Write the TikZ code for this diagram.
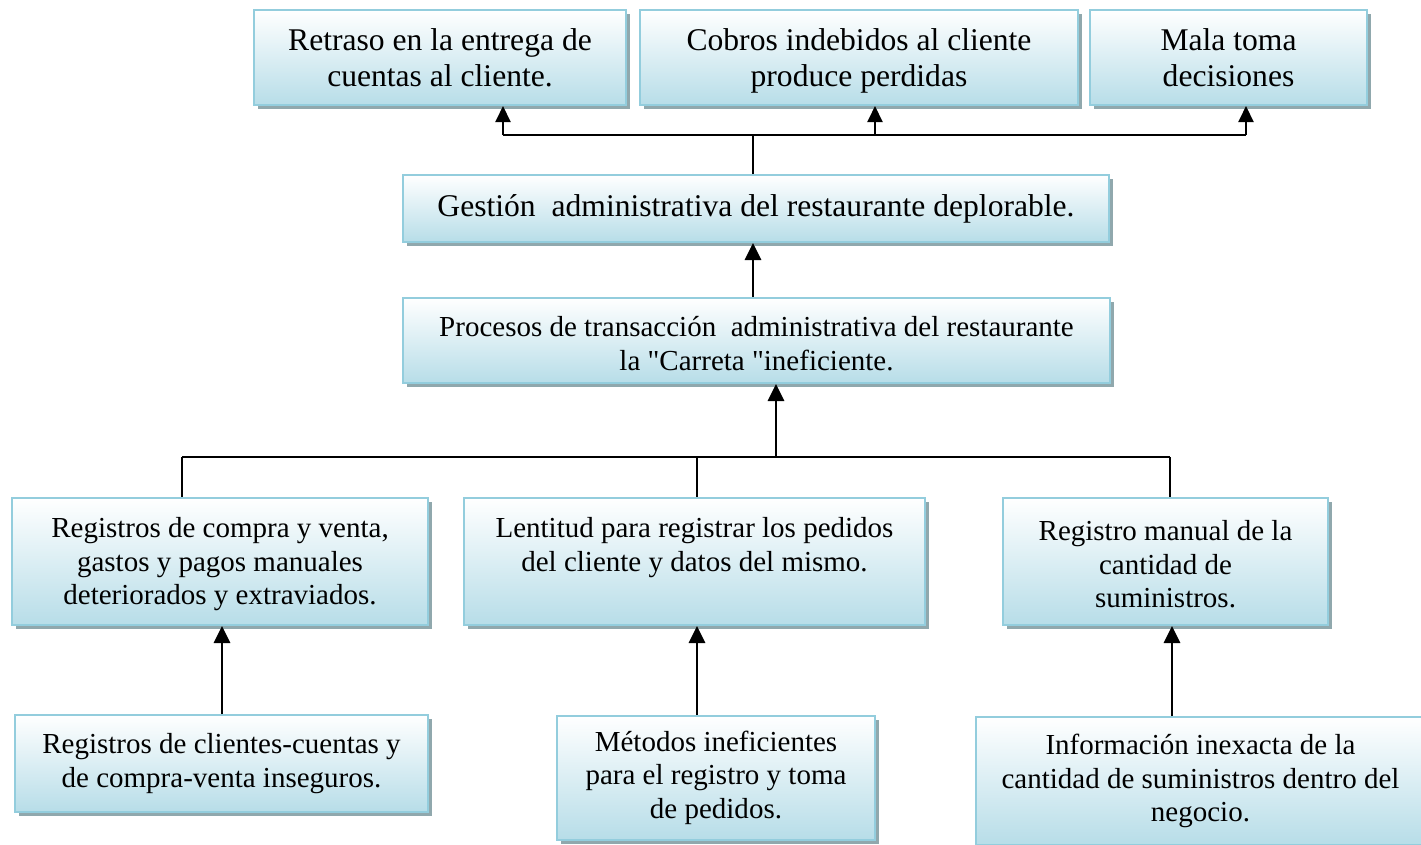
\documentclass[tikz,border=0pt]{standalone}
\usepackage{fontspec}
\setmainfont{Liberation Serif}
\newfontfamily\straightq{Liberation Serif}[Ligatures=TeXOff]
\newcommand{\sq}{{\straightq\symbol{34}}}
\newcommand{\firstpad}{\rule{0pt}{26pt}}
\usetikzlibrary{arrows.meta,shadows}
\definecolor{boxborder}{HTML}{93CDDD}
\definecolor{boxfill}{HTML}{B7DDE8}
\definecolor{boxshadow}{HTML}{90A8AD}
\tikzset{
  cbox/.style={rectangle, draw=boxborder, line width=2pt, top color=white, bottom color=boxfill,
    inner sep=0pt, align=center, text=black,
    drop shadow={shadow xshift=4pt, shadow yshift=-4pt, fill=boxshadow, opacity=1}},
  bigtext/.style={font=\fontsize{31.6}{36.2}\selectfont},
  smalltext/.style={font=\fontsize{29}{33.5}\selectfont},
  thinline/.style={line width=1.8pt, black},
  uparrow/.style={line width=2pt, black, -{Triangle[width=15pt,length=16pt]}},
  thickarrow/.style={line width=2.8pt, black, -{Triangle[width=16pt,length=17pt]}}
}
\begin{document}
\begin{tikzpicture}[x=1pt,y=-1pt]
\useasboundingbox (0,0) rectangle (1421,844);
% top row
\node[cbox,bigtext,minimum width=372pt,minimum height=95pt] (A1) at (440,57.5) {Retraso en la entrega de\\cuentas al cliente.};
\node[cbox,bigtext,minimum width=438pt,minimum height=95pt] (A2) at (859,57.5) {\rule{0pt}{28.5pt}Cobros indebidos al cliente\\produce perdidas};
\node[cbox,bigtext,minimum width=277pt,minimum height=95pt] (A3) at (1228.5,57.5) {Mala toma\\decisiones};
% middle
\node[cbox,bigtext,minimum width=706pt,minimum height=67pt] (B) at (756,208.5) {Gestión\ \ administrativa del restaurante deplorable.};
\node[cbox,smalltext,minimum width=707pt,minimum height=85pt] (C) at (756.5,340.5) {\firstpad Procesos de transacción\ \ administrativa del restaurante\\la \sq Carreta \sq ineficiente.};
% row D
\node[cbox,smalltext,minimum width=416pt,minimum height=127pt] (D1) at (220,561.5) {\firstpad Registros de compra y venta,\\gastos y pagos manuales\\deteriorados y extraviados.};
\node[cbox,smalltext,minimum width=461pt,minimum height=127pt] (D2) at (694.5,561.5) {\firstpad Lentitud para registrar los pedidos\\del cliente y datos del mismo.\\\rule[-6.3pt]{0pt}{6.3pt}};
\node[cbox,smalltext,minimum width=325pt,minimum height=127pt] (D3) at (1165.5,561.5) {\firstpad Registro manual de la\\cantidad de\\suministros.};
% row E
\node[cbox,smalltext,minimum width=413pt,minimum height=97pt] (E1) at (221.5,763.5) {Registros de clientes-cuentas y\\de compra-venta inseguros.};
\node[cbox,smalltext,minimum width=318pt,minimum height=124pt] (E2) at (716,777.5) {Métodos ineficientes\\para el registro y toma\\de pedidos.};
\node[cbox,smalltext,minimum width=449pt,minimum height=128pt] (E3) at (1200.5,781) {Información inexacta de la\\cantidad de suministros dentro del\\negocio.};
% top connectors
\coordinate (jt) at (753,135);
\coordinate (t1) at (503,135);
\coordinate (t2) at (875,135);
\coordinate (t3) at (1246,135);
\draw[thinline] (jt |- B.north) -- (jt);
\draw[thinline] (t1) -- (t3);
\draw[uparrow] (t1) -- (t1 |- A1.south);
\draw[uparrow] (t2) -- (t2 |- A2.south);
\draw[uparrow] (t3) -- (t3 |- A3.south);
% B <- C
\draw[thickarrow] (jt |- C.north) -- (jt |- B.south);
% C <- bus
\coordinate (jb) at (776,457);
\coordinate (b1) at (182,457);
\coordinate (b2) at (697,457);
\coordinate (b3) at (1170,457);
\draw[thinline] (b1) -- (b3);
\draw[thickarrow] (jb) -- (jb |- C.south);
\draw[thinline] (b1) -- (b1 |- D1.north);
\draw[thinline] (b2) -- (b2 |- D2.north);
\draw[thinline] (b3) -- (b3 |- D3.north);
% E -> D
\coordinate (e1) at (222,0);
\coordinate (e2) at (697,0);
\coordinate (e3) at (1172,0);
\draw[thickarrow] (e1 |- E1.north) -- (e1 |- D1.south);
\draw[thickarrow] (e2 |- E2.north) -- (e2 |- D2.south);
\draw[thickarrow] (e3 |- E3.north) -- (e3 |- D3.south);
\end{tikzpicture}
\end{document}
